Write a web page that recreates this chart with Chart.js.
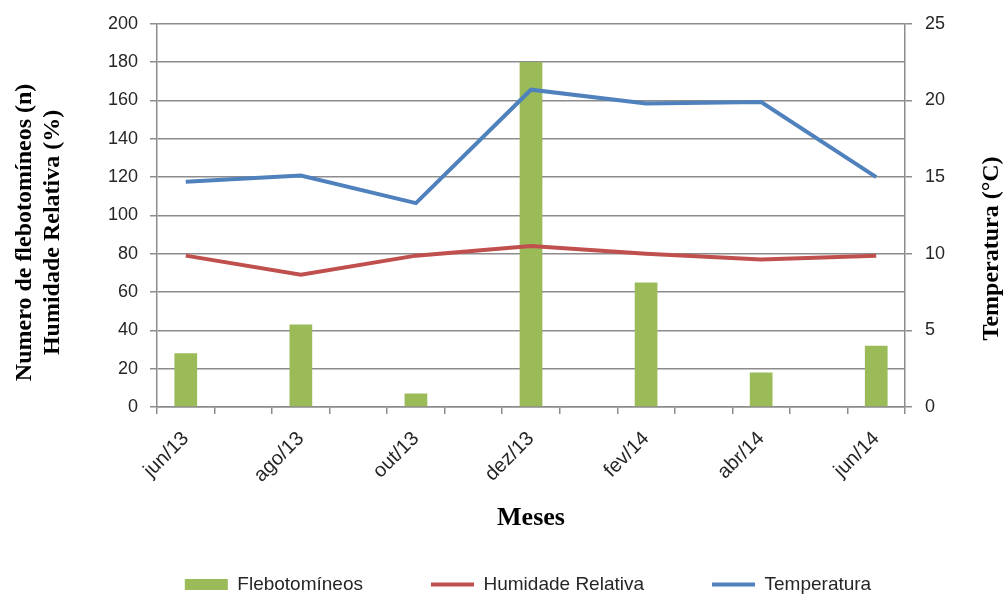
<!DOCTYPE html>
<html>
<head>
<meta charset="utf-8">
<script src="https://cdn.jsdelivr.net/npm/chart.js@4/dist/chart.umd.min.js"></script>
<style>
  html, body { margin: 0; padding: 0; background: #ffffff; }
  #wrap { width: 1006px; height: 594px; }
</style>
</head>
<body>
<div id="wrap"><canvas id="c" width="1006" height="594"></canvas></div>
<script>
// ---- data ----
const months = ['jun/13','jul/13','ago/13','set/13','out/13','nov/13','dez/13','jan/14','fev/14','mar/14','abr/14','mai/14','jun/14'];
const flebotomineos = [28, null, 43, null, 7, null, 180, null, 65, null, 18, null, 32];
const humidade = [79, null, 69, null, 79, null, 84, null, 80, null, 77, null, 79];
const temperatura = [14.7, null, 15.1, null, 13.3, null, 20.7, null, 19.8, null, 19.9, null, 15.0];
const leftTicks = [0, 20, 40, 60, 80, 100, 120, 140, 160, 180, 200];
const rightTicks = [0, 5, 10, 15, 20, 25];

const GRID = '#8c8c8c';
const TICKFONT = { family: "'Liberation Sans', Arial, sans-serif", size: 18 };
const TITLEFONT = { family: "'Liberation Serif', 'Times New Roman', serif", size: 24, weight: 'bold', lineHeight: 1.17 };

// shift an axis title vertically; optionally flip it so it reads bottom-to-top
function adjustTitle(scale, dy, flip) {
  if (scale.__adjusted) return;
  const orig = Object.getPrototypeOf(scale).drawTitle;
  scale.drawTitle = function () {
    const ctx = this.ctx;
    ctx.save();
    ctx.translate(0, dy);
    if (flip) {
      const lh = TITLEFONT.size * TITLEFONT.lineHeight;
      const cx = this.right - lh / 2;
      const cy = (this.top + this.bottom) / 2;
      ctx.translate(cx, cy);
      ctx.rotate(Math.PI);
      ctx.translate(-cx, -cy);
    }
    orig.call(this);
    ctx.restore();
  };
  scale.__adjusted = true;
}

new Chart(document.getElementById('c'), {
  data: {
    labels: months,
    datasets: [
      {
        type: 'bar', label: 'Flebotomíneos', data: flebotomineos,
        backgroundColor: '#9BBB59', borderWidth: 0, yAxisID: 'y',
        barPercentage: 0.395, categoryPercentage: 1.0, order: 3, pointStyle: 'rect'
      },
      {
        type: 'line', label: 'Humidade Relativa', data: humidade,
        borderColor: '#C0504D', backgroundColor: '#C0504D', borderWidth: 4,
        pointRadius: 0, spanGaps: true, tension: 0, yAxisID: 'y', order: 2, pointStyle: 'line'
      },
      {
        type: 'line', label: 'Temperatura', data: temperatura,
        borderColor: '#4F81BD', backgroundColor: '#4F81BD', borderWidth: 4,
        pointRadius: 0, spanGaps: true, tension: 0, yAxisID: 'y2', order: 1, pointStyle: 'line'
      }
    ]
  },
  options: {
    responsive: false,
    animation: false,
    devicePixelRatio: 1,
    layout: { padding: { top: 23, left: 50, right: 0, bottom: -10 } },
    plugins: {
      tooltip: { enabled: false },
      legend: {
        position: 'bottom',
        fullSize: true,
        labels: {
          usePointStyle: true,
          pointStyleWidth: 43,
          boxHeight: 11,
          padding: 68,
          color: '#262626',
          font: { family: "'Liberation Sans', Arial, sans-serif", size: 19 },
          sort: (a, b) => a.datasetIndex - b.datasetIndex
        }
      }
    },
    scales: {
      x: {
        type: 'category',
        offset: true,
        grid: { display: true, drawOnChartArea: false, drawTicks: true, tickLength: 7, offset: true, color: GRID, lineWidth: 1.5 },
        border: { display: true, color: GRID, width: 1.5 },
        ticks: {
          autoSkip: false, maxRotation: 45, minRotation: 45, padding: 13,
          color: '#262626', font: { family: TICKFONT.family, size: 20 },
          callback: function (v, i) { return i % 2 === 0 ? months[i] : ''; }
        },
        title: { display: true, text: 'Meses', color: '#000', font: { family: TITLEFONT.family, size: 26, weight: 'bold' }, padding: { top: 0, bottom: -26.5 } },
        afterFit: function (s) { s.height = 100; }
      },
      y: {
        position: 'left', min: 0, max: 200,
        afterBuildTicks: function (s) { s.ticks = leftTicks.map(v => ({ value: v })); },
        grid: { color: GRID, lineWidth: 1.5, tickLength: 7, drawTicks: true },
        border: { display: true, color: GRID, width: 1.5 },
        ticks: { padding: 12, color: '#262626', font: TICKFONT },
        title: { display: true, text: ['Numero de flebotomíneos (n)', 'Humidade Relativa (%)'], color: '#000', font: TITLEFONT, padding: { top: -39, bottom: 0 } },
        afterFit: function (s) { s.width = 107; adjustTitle(s, 17, false); }
      },
      y2: {
        position: 'right', min: 0, max: 25,
        afterBuildTicks: function (s) { s.ticks = rightTicks.map(v => ({ value: v })); },
        grid: { drawOnChartArea: false, color: GRID, lineWidth: 1.5, tickLength: 7, drawTicks: true },
        border: { display: true, color: GRID, width: 1.5 },
        ticks: { padding: 13, color: '#262626', font: TICKFONT },
        title: { display: true, text: 'Temperatura (°C)', color: '#000', font: TITLEFONT, padding: { top: 0, bottom: 0 } },
        afterFit: function (s) { s.width = 101; adjustTitle(s, 33, true); }
      }
    }
  }
});
</script>
</body>
</html>
